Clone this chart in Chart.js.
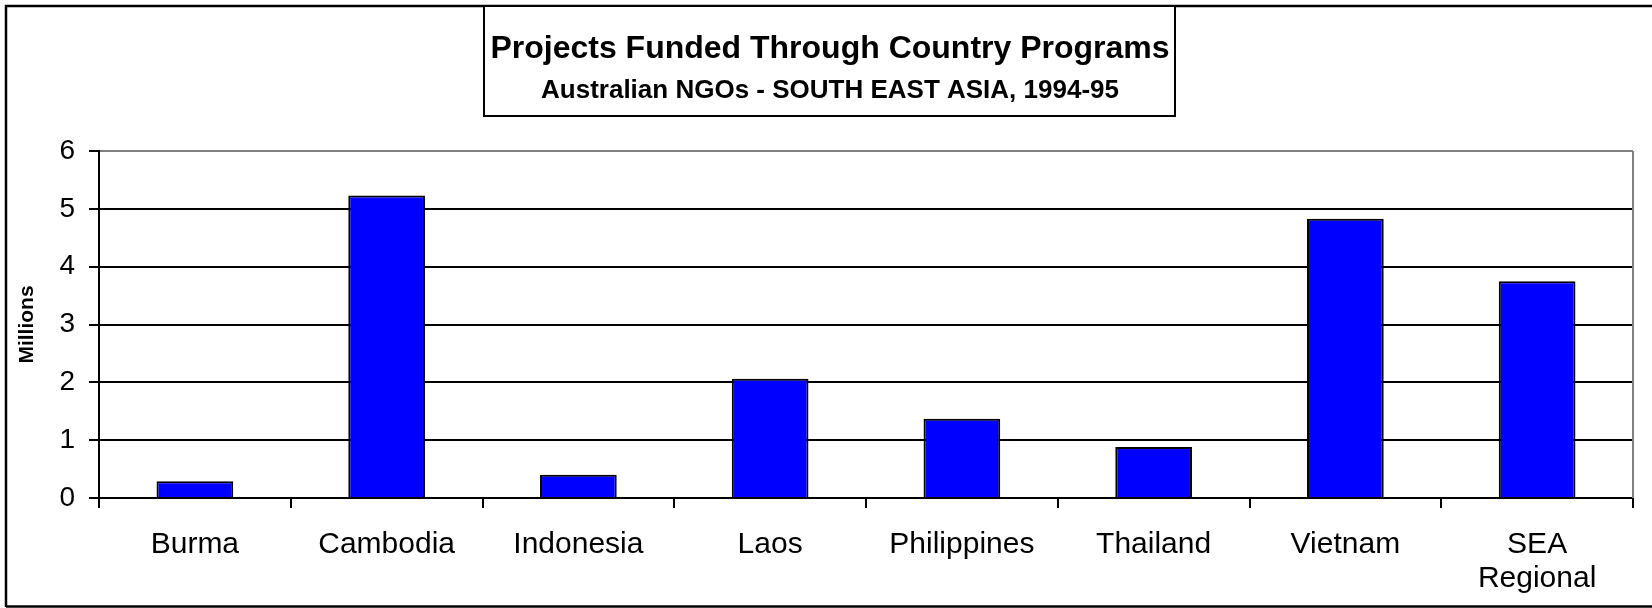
<!DOCTYPE html>
<html>
<head>
<meta charset="utf-8">
<script src="https://cdn.jsdelivr.net/npm/chart.js@4/dist/chart.umd.min.js"></script>
<style>
  html, body { margin: 0; padding: 0; background: #fff; }
  #wrap { width: 1652px; height: 608px; position: relative; }
</style>
</head>
<body>
<div id="wrap"><canvas id="c" width="1652" height="608"></canvas></div>
<script>
const categories = ["Burma", "Cambodia", "Indonesia", "Laos", "Philippines", "Thailand", "Vietnam", ["SEA", "Regional"]];
const fundingMillions = [0.29, 5.23, 0.40, 2.06, 1.37, 0.88, 4.83, 3.75];
const yTicks = [0, 1, 2, 3, 4, 5, 6];
const titleText = "Projects Funded Through Country Programs";
const subtitleText = "Australian NGOs - SOUTH EAST ASIA, 1994-95";
const yAxisTitle = "Millions";

const FONT = "Arial, 'Liberation Sans', Helvetica, sans-serif";

const framePlugin = {
  id: 'frame',
  afterDraw(chart) {
    const ctx = chart.ctx;
    const a = chart.chartArea;
    ctx.save();
    // plot area right border (gray)
    ctx.strokeStyle = '#808080';
    ctx.lineWidth = 2;
    ctx.beginPath();
    ctx.moveTo(a.right, a.top);
    ctx.lineTo(a.right, a.bottom);
    ctx.stroke();
    // outer frame (left, top, bottom)
    ctx.strokeStyle = '#000';
    ctx.lineWidth = 2.5;
    ctx.beginPath();
    ctx.moveTo(6, 607);
    ctx.lineTo(6, 6);
    ctx.lineTo(1652, 6);
    ctx.moveTo(6, 606.5);
    ctx.lineTo(1652, 606.5);
    ctx.stroke();
    // title box
    ctx.fillStyle = '#fff';
    ctx.fillRect(484, 6, 691, 110);
    ctx.lineWidth = 2;
    ctx.strokeRect(484, 6, 691, 110);
    ctx.fillStyle = '#000';
    ctx.textAlign = 'center';
    ctx.textBaseline = 'middle';
    ctx.font = "bold 32px " + FONT;
    ctx.fillText(titleText, 830, 49);
    ctx.font = "bold 26px " + FONT;
    ctx.fillText(subtitleText, 830, 91);
    ctx.restore();
  }
};

new Chart(document.getElementById('c'), {
  type: 'bar',
  data: {
    labels: categories,
    datasets: [{
      data: fundingMillions,
      backgroundColor: '#0000FF',
      borderColor: '#000',
      borderWidth: 2,
      barPercentage: 0.4,
      categoryPercentage: 1.0
    }]
  },
  options: {
    responsive: false,
    animation: false,
    devicePixelRatio: 1,
    layout: { padding: { top: 151, right: 19, bottom: 0, left: 0 } },
    plugins: { legend: { display: false }, tooltip: { enabled: false }, title: { display: false } },
    scales: {
      x: {
        afterFit: (s) => { s.height = 110; },
        border: { display: true, color: '#000', width: 2 },
        grid: { display: true, drawOnChartArea: false, drawTicks: true, tickLength: 10, color: '#000', tickColor: '#000', lineWidth: 2, offset: true },
        ticks: { color: '#000', font: { family: FONT, size: 30, lineHeight: 1.12 }, padding: 20, maxRotation: 0, autoSkip: false }
      },
      y: {
        min: 0, max: 6,
        afterFit: (s) => { s.width = 99; },
        afterBuildTicks: (s) => { s.ticks = yTicks.map(v => ({ value: v })); },
        border: { display: true, color: '#000', width: 2 },
        grid: {
          color: (ctx) => (ctx.tick && ctx.tick.value === 6) ? '#808080' : '#000',
          tickColor: '#000', lineWidth: 2, tickLength: 10, drawTicks: true
        },
        ticks: { color: '#000', font: { family: FONT, size: 28 }, padding: 14 },
        title: { display: true, text: yAxisTitle, color: '#000', font: { family: FONT, size: 21, weight: 'bold' }, padding: { top: 15, bottom: 0 } }
      }
    }
  },
  plugins: [framePlugin]
});
</script>
</body>
</html>
